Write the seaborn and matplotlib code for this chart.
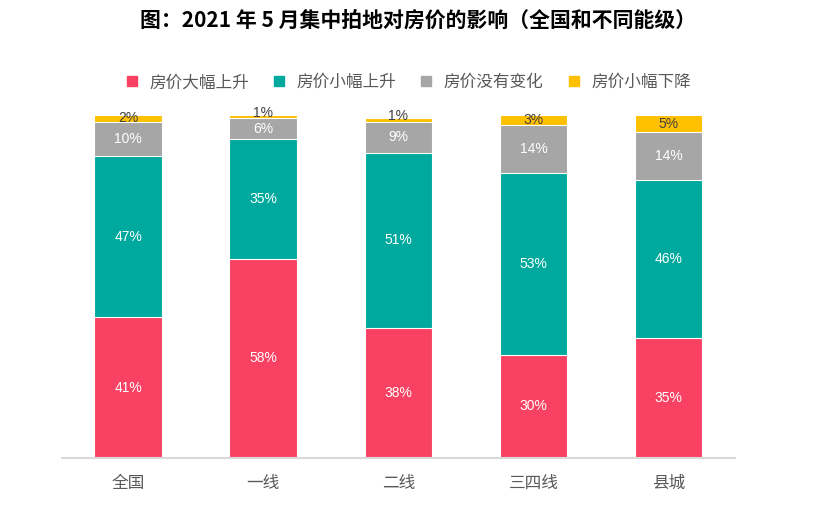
import numpy as np
import pandas as pd
import matplotlib
matplotlib.use('Agg')
import matplotlib.pyplot as plt
from matplotlib.lines import Line2D
import seaborn as sns

categories = ['全国', '一线', '二线', '三四线', '县城']
series_names = ['房价大幅上升', '房价小幅上升', '房价没有变化', '房价小幅下降']
big_rise = [41, 58, 38, 30, 35]
small_rise = [47, 35, 51, 53, 46]
no_change = [10, 6, 9, 14, 14]
small_fall = [2, 1, 1, 3, 5]
colors = ['#F94263', '#00A99D', '#A6A6A6', '#FFC000']
label_colors = ['white', 'white', 'white', '#404040']

sns.set_style('white')
plt.rcParams['font.family'] = ['Noto Sans CJK SC', 'DejaVu Sans']

fig = plt.figure(figsize=(8.36, 5.11), dpi=100)
ax = fig.add_axes([0.074, 0.104, 0.805, 0.671])

values = [big_rise, small_rise, no_change, small_fall]
cum = np.cumsum(np.array(values), axis=0)

# draw cumulative layers from top to bottom so each one covers the next
for i in range(len(values) - 1, -1, -1):
    df = pd.DataFrame({'cat': categories, 'val': cum[i]})
    sns.barplot(data=df, x='cat', y='val', color=colors[i], width=0.5,
                edgecolor='white', linewidth=0.8, saturation=1, ax=ax)

for i, vals in enumerate(values):
    base = cum[i] - np.array(vals)
    for j, v in enumerate(vals):
        # tiny top segments: lift the label a little so it clears the one below
        dy = 3 if (i == 3 and v <= 1) else 0
        ax.annotate(f'{v}%', (j, base[j] + v / 2), xytext=(0, dy),
                    textcoords='offset points', ha='center', va='center',
                    fontsize=10, color=label_colors[i],
                    family=['Liberation Sans', 'DejaVu Sans'])

ax.set_xlim(-0.49, 4.49)
ax.set_ylim(0, 100)
ax.set_xlabel('')
ax.set_ylabel('')
ax.set_yticks([])
ax.tick_params(axis='x', length=0, labelsize=12, labelcolor='#595959', pad=12)
for s in ['top', 'right', 'left']:
    ax.spines[s].set_visible(False)
ax.spines['bottom'].set_color('#D9D9D9')
ax.spines['bottom'].set_linewidth(1.5)

handles = [Line2D([0], [0], marker='s', linestyle='none', markersize=7,
                  markerfacecolor=c, markeredgecolor=c) for c in colors]
fig.legend(handles, series_names, loc='center', bbox_to_anchor=(0.482, 0.838),
           ncol=4, frameon=False, fontsize=12, handletextpad=0.05,
           columnspacing=0.8, labelcolor='#595959')

fig.text(0.5, 0.958, '图：2021 年 5 月集中拍地对房价的影响（全国和不同能级）',
         ha='center', va='center', fontsize=15, fontweight='bold', color='black')

fig.savefig('out.png', dpi=100)
